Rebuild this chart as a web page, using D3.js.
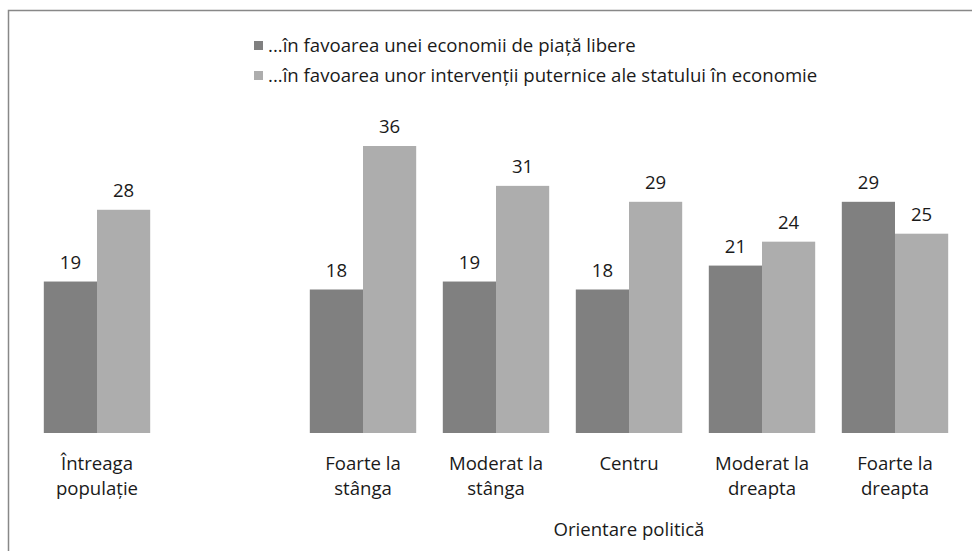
<!DOCTYPE html>
<html><head><meta charset="utf-8">
<script src="https://cdn.jsdelivr.net/npm/d3@7"></script>
<style>body{margin:0;background:#fff}svg{display:block}text{font-family:"Open Sans",sans-serif;fill:#1a1a1a}</style>
</head><body>
<svg id="c" width="972" height="551"></svg>
<script>
const categories = [["Întreaga","populație"],[""],["Foarte la","stânga"],["Moderat la","stânga"],["Centru"],["Moderat la","dreapta"],["Foarte la","dreapta"]];
const seriesNames = ["...în favoarea unei economii de piață libere","...în favoarea unor intervenții puternice ale statului în economie"];
const freeMarket = [19, null, 18, 19, 18, 21, 29];
const stateIntervention = [28, null, 36, 31, 29, 24, 25];
const axisTitle = "Orientare politică";
const colors = ["#808080","#adadad"];

const svg = d3.select("#c");
svg.append("path").attr("d","M8.5,551V10.5H972").attr("fill","none").attr("stroke","#888").attr("stroke-width",1.5);

const fs = 18.6;
const baseY = 433;
const x = d3.scaleBand().domain(d3.range(categories.length)).range([30.5, 961.5]).paddingInner(0.2).paddingOuter(0.1);
const y = d3.scaleLinear().domain([0, 36]).range([baseY, 146]);
const series = [freeMarket, stateIntervention];
const xs = d3.scaleBand().domain([0,1]).range([0, x.bandwidth()]);

series.forEach((vals, si) => {
  const g = svg.append("g");
  vals.forEach((v, i) => {
    if (v == null) return;
    const bx = x(i) + xs(si);
    g.append("rect").attr("x", bx).attr("y", y(v)).attr("width", xs.bandwidth()).attr("height", baseY - y(v)).attr("fill", colors[si]);
    g.append("text").attr("x", bx + xs.bandwidth()/2).attr("y", y(v) - 13).attr("text-anchor","middle").attr("font-size",fs).text(v);
  });
});

categories.forEach((lines, i) => {
  const t = svg.append("text").attr("text-anchor","middle").attr("font-size",fs);
  lines.forEach((l, k) => t.append("tspan").attr("x", x(i) + x.bandwidth()/2).attr("y", 470 + k*25).text(l));
});

svg.append("text").attr("x", (x(2) + x(6) + x.bandwidth())/2).attr("y", 536).attr("text-anchor","middle").attr("font-size",fs).text(axisTitle);

seriesNames.forEach((n, i) => {
  svg.append("rect").attr("x", 254).attr("y", 41 + i*30).attr("width", 9).attr("height", 9).attr("fill", colors[i]);
  svg.append("text").attr("x", 268).attr("y", 52 + i*30).attr("font-size",fs).text(n);
});
</script>
</body></html>
